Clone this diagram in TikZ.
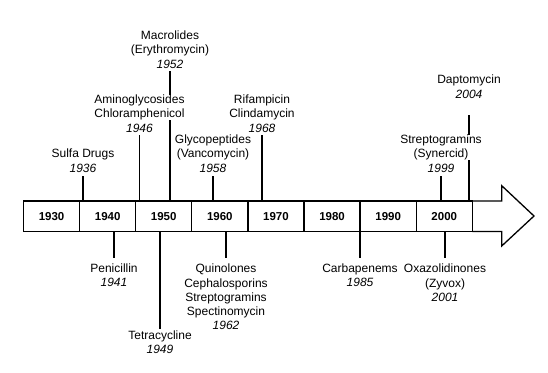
\documentclass[tikz,border=0pt]{standalone}
\usepackage{fontspec}
\setmainfont{Liberation Sans}
\tikzset{
  yearbox/.style={draw, line width=1.3pt, minimum width=56.1pt, minimum height=30.5pt, inner sep=0pt,
    font=\fontsize{11.5}{13}\selectfont\bfseries},
  stem/.style={line width=1.8pt},
  arrowshape/.style={draw, line width=1.3pt, fill=white, line join=miter},
  nm/.style={align=center, inner sep=0pt, fill=white, font=\fontsize{12}{14.4}\selectfont},
  yr/.style={inner sep=0pt, anchor=base, font=\fontsize{12}{14.4}\selectfont\itshape},
}
\begin{document}
\begin{tikzpicture}[x=1pt,y=-1pt]
\useasboundingbox (0,0) rectangle (548,372);
% arrow shaft and head
\coordinate (ashaftT) at (472.3,201);
\coordinate (ashaftB) at (472.3,231.5);
\draw[arrowshape] (ashaftT) -- (501.7,201) -- (501.7,185.7) -- (534,216) -- (501.7,246) -- (501.7,231.5) -- (ashaftB);
% decade boxes
\foreach \yy [count=\i from 0] in {1930,1940,1950,1960,1970,1980,1990,2000}
  \node[yearbox] (b\yy) at ({23.5+56.1*(\i+0.5)},216.25) {\yy};

% ---- upper labels ----
% Macrolides
\node[yr] (macroY) at (170,68.3) {1952};
\node[nm, anchor=south] (macroN) at (170,56.4) {Macrolides\\(Erythromycin)};
\draw[stem, shorten <=2.7pt] (macroY.base) -- (macroY.base |- b1950.north);
% Daptomycin
\node[yr] (daptoY) at (469,98) {2004};
\node[nm, anchor=south] (daptoN) at (469,86.1) {Daptomycin};
\draw[stem, shorten <=17pt] (daptoY.base) -- (daptoY.base |- b2000.north);
% Sulfa
\node[yr] (sulfaY) at (83,172.3) {1936};
\node[nm, anchor=south] (sulfaN) at (83,160.4) {Sulfa Drugs};
\draw[stem, shorten <=3.7pt] (sulfaY.base) -- (sulfaY.base |- b1940.north);
% Aminoglycosides
\node[yr] (aminoY) at (139.5,132.3) {1946};
\node[nm, anchor=south] (aminoN) at (139.5,120.4) {Aminoglycosides\\Chloramphenicol};
\draw[stem, shorten <=2.7pt] (aminoY.base) -- (aminoY.base |- b1950.north);
% Glycopeptides
\node[yr] (glycoY) at (213,172.3) {1958};
\node[nm, anchor=south] (glycoN) at (213,160.4) {Glycopeptides\\(Vancomycin)};
\draw[stem, shorten <=3.7pt] (glycoY.base) -- (glycoY.base |- b1960.north);
% Rifampicin
\node[yr] (rifY) at (262,132.3) {1968};
\node[nm, anchor=south] (rifN) at (262,120.4) {Rifampicin\\Clindamycin};
\draw[stem, shorten <=2.7pt] (rifY.base) -- (rifY.base |- b1970.north);
% Streptogramins (Synercid)
\node[yr] (strepY) at (441,172.3) {1999};
\node[nm, anchor=south] (strepN) at (441,160.4) {Streptogramins\\(Synercid)};
\draw[stem, shorten <=3.7pt] (strepY.base) -- (strepY.base |- b2000.north);

% ---- lower labels ----
\node[nm, anchor=north] (periN) at (114,263.7) {Penicillin};
\node[yr] (periY) at (114,286.7) {1941};
\draw[stem, shorten >=5.7pt] (periN.north |- b1940.south) -- (periN.north);

\node[nm, anchor=north] (tetraN) at (160,330.7) {Tetracycline};
\node[yr] (tetraY) at (160,353.7) {1949};
\draw[stem, shorten >=2.2pt] (tetraN.north |- b1950.south) -- (tetraN.north);

\node[nm, anchor=north] (quinoN) at (226,263.7) {Quinolones\\Cephalosporins\\Streptogramins\\Spectinomycin};
\node[yr] (quinoY) at (226,329.9) {1962};
\draw[stem, shorten >=5.7pt] (quinoN.north |- b1960.south) -- (quinoN.north);

\node[nm, anchor=north] (carbaN) at (360,263.7) {Carbapenems};
\node[yr] (carbaY) at (360,286.7) {1985};
\draw[stem, shorten >=5.7pt] (carbaN.north |- b1980.south) -- (carbaN.north);

\node[nm, anchor=north] (oxaN) at (445,263.7) {Oxazolidinones\\(Zyvox)};
\node[yr] (oxaY) at (445,301.1) {2001};
\draw[stem, shorten >=5.7pt] (oxaN.north |- b2000.south) -- (oxaN.north);
\end{tikzpicture}
\end{document}
